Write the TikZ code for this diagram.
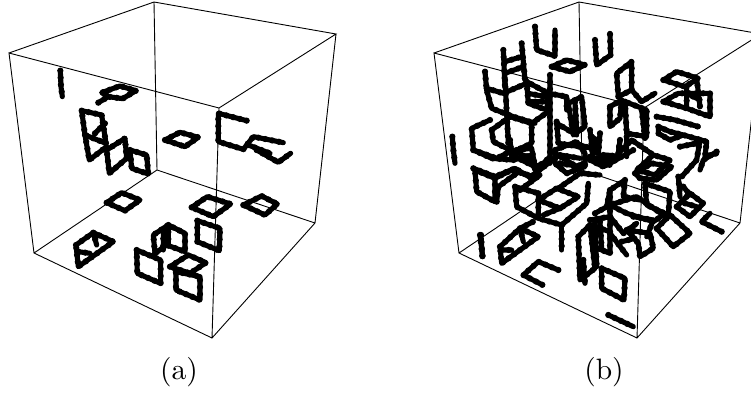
\documentclass[tikz,border=0pt]{standalone}
\begin{document}
\begin{tikzpicture}[x=1pt,y=-1pt,
  edge/.style={line width=0.9pt,black},
  bead/.style={line width=5.1pt,black,line cap=round,line join=round,
    preaction={draw,line width=6.3pt,line cap=round,dash pattern=on 0pt off 7pt}},
  lab/.style={inner sep=0pt,scale=2.95},
  crop/.style={x=0.3333pt,y=-0.3333pt}]
\useasboundingbox (0,0) rectangle (751,394);
\clip (0,0) rectangle (751,394);
% cube (a)
\coordinate (A1) at (154,2); \coordinate (A2) at (9,53); \coordinate (A3) at (336,34); \coordinate (A4) at (219,108);
\coordinate (A5) at (157,170); \coordinate (A6) at (34,253); \coordinate (A7) at (315,223); \coordinate (A8) at (212,338);
\draw[edge] (A2)--(A1)--(A3)--(A4)--(A2)--(A6)--(A8)--(A7)--(A3) (A4)--(A8) (A1)--(A5)--(A6) (A5)--(A7);
% cube (b)
\coordinate (B1) at (579,2); \coordinate (B2) at (434,53); \coordinate (B3) at (761,34); \coordinate (B4) at (644,108);
\coordinate (B5) at (582,170); \coordinate (B6) at (459,253); \coordinate (B7) at (740,223); \coordinate (B8) at (637,338);
\draw[edge] (B2)--(B1)--(B3)--(B4)--(B2)--(B6)--(B8)--(B7)--(B3) (B4)--(B8) (B1)--(B5)--(B6) (B5)--(B7);
% loops (a), upper part
\begin{scope}[crop]
\draw[bead] (181,212)--(183,260)--(187,290);
\draw[bead] (295,308)--(325,290)--(305,278)--(360,258)--(408,272)--(368,296)--(325,290);
\draw[bead] (245,332)--(305,345)--(318,430)--(255,405)--cycle (255,405)--(268,480)--(320,440) (285,400)--(315,370);
\draw[bead] (320,450)--(375,415)--(380,475)--(328,520)--cycle;
\draw[bead] (390,450)--(440,465)--(445,522)--(395,505)--cycle;
\draw[bead] (495,420)--(540,397)--(595,412)--(555,440)--cycle;
\draw[bead] (740,362)--(655,340)--(655,425)--(730,448)--(760,410)--(850,428);
\draw[bead] (745,435)--(810,460) (770,450)--(835,487)--(872,460);
\end{scope}
% loops (a), lower part
\begin{scope}[shift={(0,190)},crop]
\draw[bead] (320,38)--(365,8)--(420,30)--(375,62)--cycle;
\draw[bead] (575,52)--(622,20)--(692,42)--(640,80)--cycle;
\draw[bead] (730,45)--(785,18)--(832,42)--(795,75)--cycle;
\draw[bead] (592,92)--(660,115)--(658,182)--(592,155)--cycle;
\draw[bead] (228,165)--(280,128)--(340,155)--(235,230)--cycle (280,128)--(290,165) (235,185)--(270,190);
\draw[bead] (465,190)--(460,135)--(505,105)--(555,130)--(555,185)--(500,165)--(465,190) (505,105)--(505,165) (490,125)--(490,180);
\draw[bead] (410,180)--(482,210)--(482,280)--(412,250)--cycle;
\draw[bead] (510,230)--(565,195)--(618,218)--(570,250)--cycle;
\draw[bead] (528,245)--(600,260)--(600,330)--(528,300)--cycle;
\end{scope}
% loops (b), top
\begin{scope}[shift={(420,0)},crop]
\draw[bead] (345,80)--(350,150)--(405,168)--(405,90);
\draw[bead] (525,120)--(530,195)--(572,165)--(570,100);
\draw[bead] (395,200)--(440,180)--(495,195)--(450,215)--cycle;
\draw[bead] (250,150)--(255,260) (305,130)--(315,240) (255,185)--(305,170) (255,220)--(310,200);
\draw[bead] (97,410)--(100,450)--(105,490);
\end{scope}
% loops (b), upper left crop
\begin{scope}[shift={(460,60)},crop]
\draw[bead] (75,35)--(80,90)--(95,145)--(160,170)--(225,190);
\draw[bead] (80,85)--(130,100)--(200,70) (135,60)--(145,250);
\draw[bead] (200,65)--(205,130)--(260,150)--(265,100)--cycle (205,100)--(255,110) (205,125)--(250,125);
\draw[bead] (265,100)--(320,110)--(320,150) (270,45)--(270,310);
\draw[bead] (90,180)--(35,205)--(40,270)--(95,295)--(160,300)--(215,285);
\draw[bead] (95,210)--(100,245)--(160,275)--(215,250)--(215,190)--(150,170)--cycle;
\draw[bead] (150,240)--(155,290) (170,270)--(215,265)--(225,320)--(165,290)--cycle (215,190)--(265,155) (225,320)--(250,310)--(270,290);
\draw[bead] (290,185)--(295,250)--(360,260) (290,190)--(350,225);
\draw[bead] (325,130)--(365,110)--(375,200)--(340,225)--cycle (345,125)--(350,210);
\draw[bead] (285,270)--(350,245)--(375,280)--(375,320)--(320,340)--(285,310)--cycle (300,285)--(360,295) (300,310)--(360,320);
\draw[bead] (360,255)--(410,270) (395,230)--(410,240)--(410,280);
\draw[bead] (40,325)--(105,350)--(165,325)--(215,355);
\end{scope}
% loops (b), upper right crop
\begin{scope}[shift={(590,60)},crop]
\draw[bead] (85,110)--(80,40)--(125,5)--(125,90)--cycle (125,90)--(155,125)--(195,100);
\draw[bead] (60,140)--(95,120)--(90,175)--(60,200)--cycle;
\draw[bead] (105,125)--(110,220)--(170,230)--(170,150)--cycle (155,150)--(165,235);
\draw[bead] (220,60)--(260,35)--(325,55)--(285,80)--cycle (320,55)--(330,140) (290,80)--(290,140);
\draw[bead] (220,125)--(265,100)--(360,100)--(360,170)--(290,145)--cycle (290,100)--(330,120);
\draw[bead] (200,170)--(255,180)--(325,200);
\draw[bead] (205,200)--(240,215)--(280,225)--(350,245)--(345,290)--(380,280) (205,200)--(205,220)--(240,240)--(280,225);
\draw[bead] (270,260)--(320,250) (330,240)--(320,300)--(275,350);
\draw[bead] (90,240)--(85,280)--(125,240)--(190,285)--(240,300)--(195,345)--(140,330)--(190,285);
\draw[bead] (40,285)--(60,295)--(35,310)--(15,300)--cycle;
\draw[bead] (0,210)--(10,300) (30,220)--(25,280) (0,300)--(40,320)--(60,310)--(130,270);
\draw[bead] (110,230)--(110,290) (85,280)--(90,240);
\end{scope}
% loops (b), lower left crop
\begin{scope}[shift={(460,150)},crop]
\draw[bead] (40,0)--(110,25)--(160,0)--(215,30)--(225,60);
\draw[bead] (45,60)--(105,85)--(105,155)--(50,125)--cycle;
\draw[bead] (105,85)--(155,60)--(220,80) (110,155)--(115,110)--(170,70);
\draw[bead] (165,110)--(170,170)--(235,205)--(305,225)--(380,160)--(385,100) (165,110)--(235,130);
\draw[bead] (235,150)--(290,115)--(355,140)--(300,175)--cycle (235,130)--(235,200) (300,175)--(250,195) (180,120)--(240,75);
\draw[bead] (305,225)--(305,300);
\draw[bead] (295,115)--(360,70)--(420,75) (220,75)--(290,20) (285,10)--(350,50)--(370,40);
\draw[bead] (60,255)--(68,320);
\draw[bead] (120,290)--(180,235)--(235,260)--(125,340)--cycle (180,235)--(220,215) (180,235)--(190,275) (125,300)--(155,300);
\end{scope}
% loops (b), lower right crop
\begin{scope}[shift={(590,150)},crop]
\draw[bead] (0,20)--(60,45) (30,30)--(50,15)--(90,20)--(50,45);
\draw[bead] (135,70)--(185,40)--(245,50)--(200,90)--(150,85)--cycle;
\draw[bead] (265,80)--(270,140) (280,110)--(300,135) (380,5)--(340,30)--(330,60);
\draw[bead] (165,100)--(240,125)--(235,195)--(170,165)--cycle;
\draw[bead] (260,170)--(300,130)--(340,160)--(300,200)--cycle (285,160)--(320,170);
\draw[bead] (395,245)--(335,215)--(360,190);
\draw[bead] (50,170)--(60,120)--(105,90)--(100,140)--(150,150);
\draw[bead] (15,190)--(60,165)--(140,140)--(220,195)--(190,215)--(110,190)--(60,165);
\draw[bead] (60,120)--(60,260) (0,210)--(60,200)--(100,250)--(140,220);
\draw[bead] (200,235)--(240,195)--(300,250)--(250,290)--cycle;
\draw[bead] (110,240)--(180,250)--(190,295)--(150,320)--(145,280)--cycle;
\draw[bead] (15,215)--(20,350) (60,250)--(110,315) (95,275)--(135,265) (130,200)--(190,210)--(170,260);
\end{scope}
% loops (b), bottom
\begin{scope}[shift={(420,190)},crop]
\draw[bead] (475,140)--(510,105)--(525,235)--(480,270)--cycle;
\draw[bead] (510,105)--(570,125)--(570,190)--(520,170) (540,95)--(545,175);
\draw[bead] (490,210)--(495,280);
\draw[bead] (183,135)--(187,200);
\draw[bead] (415,240)--(355,215)--(310,255)--(368,285);
\draw[bead] (545,235)--(615,265)--(612,330)--(545,295)--cycle;
\draw[bead] (565,375)--(640,410);
\end{scope}
\node[lab] (capa) at (179,372) {(a)};
\node[lab] (capb) at (604,372) {(b)};
\end{tikzpicture}
\end{document}
